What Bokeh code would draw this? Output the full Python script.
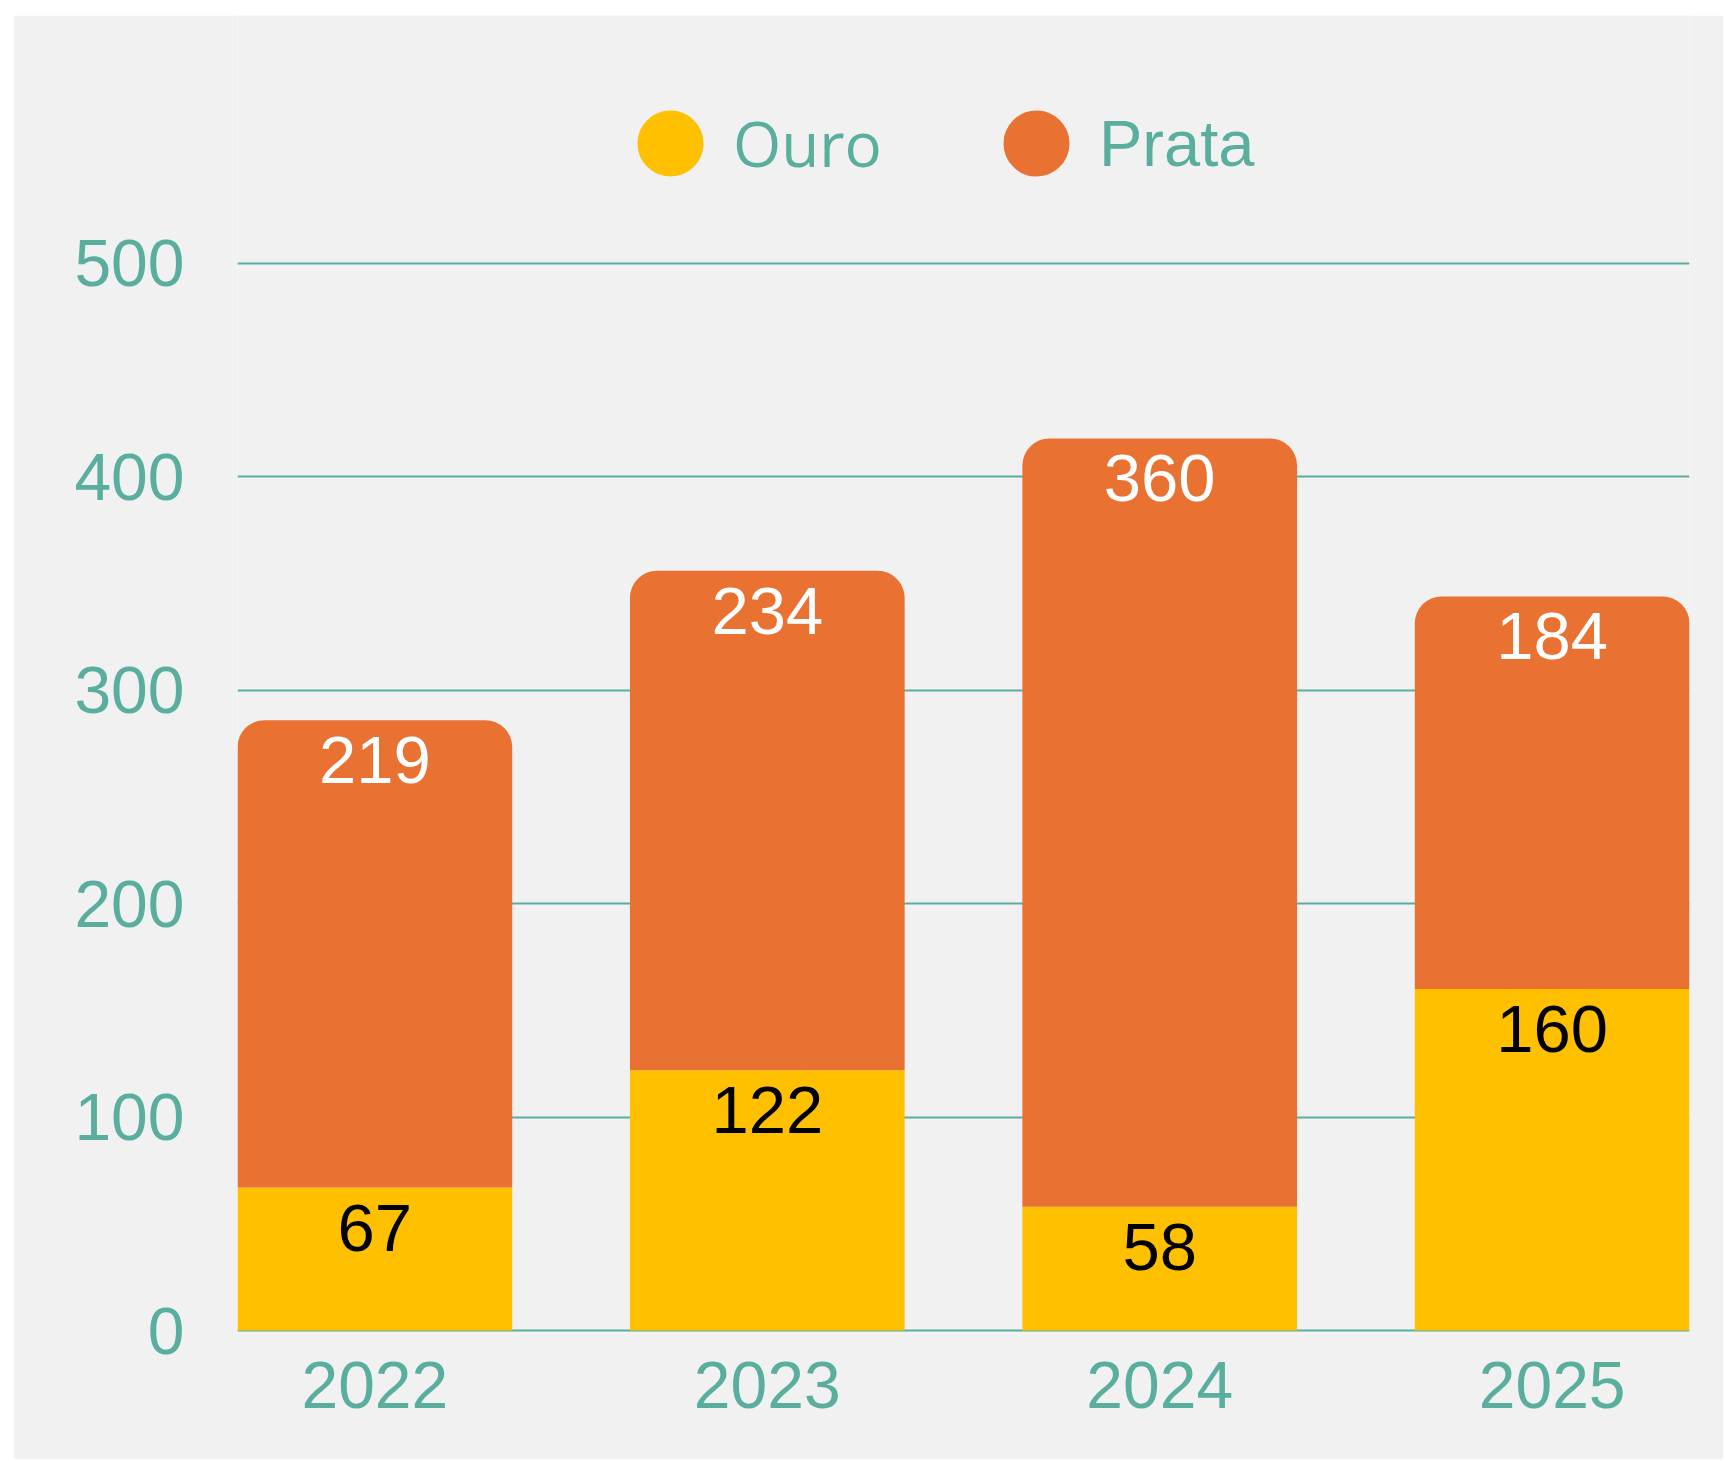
from bokeh.plotting import figure
from bokeh.models import ColumnDataSource, FixedTicker, Legend, LegendItem, Range1d
from bokeh.core.properties import value
from bokeh.embed import file_html
from bokeh.resources import INLINE

# ---- data ----
years = ["2022", "2023", "2024", "2025"]
ouro = [67, 122, 58, 160]
prata = [219, 234, 360, 184]
y_ticks = [0, 100, 200, 300, 400, 500]

# ---- style ----
TEAL = "#5AAE9E"
GOLD = "#FFC000"
ORANGE = "#E97132"
BG = "#F1F1F1"
FONT = "Liberation Sans"

xs = list(range(len(years)))
total = [o + p for o, p in zip(ouro, prata)]

src = ColumnDataSource(dict(
    x=xs, ouro=ouro, prata=prata, total=total,
    ouro_lbl=[str(v) for v in ouro], prata_lbl=[str(v) for v in prata],
))

p = figure(
    width=1710, height=1444, margin=(15, 0, 0, 13),
    title=None, toolbar_location=None, output_backend="svg",
    x_range=Range1d(-0.35, 3.35), y_range=Range1d(-1.4, 616.2),
    min_border_left=224, min_border_right=34, min_border_top=0, min_border_bottom=126,
)
p.background_fill_color = BG
p.border_fill_color = BG
p.outline_line_color = None

# bars
p.vbar(x="x", bottom=0, top="ouro", width=0.7, source=src,
       fill_color=GOLD, line_color=None)
p.vbar(x="x", bottom="ouro", top="total", width=0.7, source=src,
       fill_color=ORANGE, line_color=None, border_radius=(27, 27, 0, 0))

# data labels
p.text(x="x", y="ouro", text="ouro_lbl", source=src, text_align="center",
       text_baseline="alphabetic", y_offset=40, text_color="black",
       text_font=value(FONT), text_font_size="67px")
p.text(x="x", y="total", text="prata_lbl", source=src, text_align="center",
       text_baseline="alphabetic", y_offset=40, text_color="white",
       text_font=value(FONT), text_font_size="67px")

# axes
p.xaxis.ticker = FixedTicker(ticks=xs)
p.xaxis.major_label_overrides = {i: y for i, y in zip(xs, years)}
p.yaxis.ticker = FixedTicker(ticks=y_ticks)
for ax in (p.xaxis[0], p.yaxis[0]):
    ax.axis_line_color = None
    ax.major_tick_line_color = None
    ax.minor_tick_line_color = None
    ax.major_tick_out = 0
    ax.major_tick_in = 0
    ax.major_label_text_color = TEAL
    ax.major_label_text_font = FONT
    ax.major_label_text_font_size = "66px"
p.yaxis.major_label_standoff = 53
p.xaxis.major_label_standoff = 28

p.xgrid.grid_line_color = None
p.ygrid.grid_line_color = TEAL
p.ygrid.grid_line_width = 2
p.ygrid.ticker = FixedTicker(ticks=y_ticks)

# legend swatch renderers (not drawn in the plot; only the legend shows them)
r_ouro = p.scatter(x="x", y="ouro", source=src, marker="circle", visible=False,
                   size=10, fill_color=GOLD, line_color=GOLD, line_width=15.6,
                   line_join="round")
r_prata = p.scatter(x="x", y="total", source=src, marker="circle", visible=False,
                    size=10, fill_color=ORANGE, line_color=ORANGE, line_width=15.6,
                    line_join="round")

def make_legend(label, rend, loc, font, size):
    lg = Legend(items=[LegendItem(label=label, renderers=[rend], index=0)], location=loc,
                glyph_width=126, glyph_height=126, label_standoff=0,
                padding=0, margin=0, spacing=0, click_policy="none",
                inactive_fill_alpha=0,
                background_fill_alpha=0, border_line_color=None,
                label_text_color=TEAL, label_text_font=font,
                label_text_font_size=size, label_text_baseline="middle")
    p.add_layout(lg, "center")

make_legend("Ouro", r_ouro, (370, 1127), "Open Sans", "62px")
make_legend("Prata", r_prata, (736, 1127), FONT, "65px")

open("out.html", "w").write(file_html(p, INLINE))
